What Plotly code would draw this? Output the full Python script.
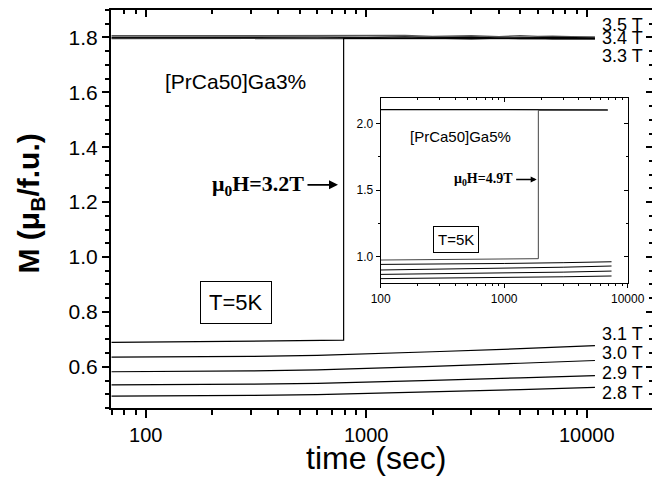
import plotly.graph_objects as go

# ---------------- data (main panel: [PrCa50]Ga3%) ----------------
t_low = [70, 150, 300, 600, 1000, 2000, 5000, 10900]
m_31 = [0.635, 0.636, 0.638, 0.642, 0.647, 0.655, 0.666, 0.677]
m_30 = [0.582, 0.583, 0.585, 0.589, 0.594, 0.602, 0.613, 0.623]
m_29 = [0.534, 0.535, 0.537, 0.540, 0.544, 0.551, 0.560, 0.568]
m_28 = [0.493, 0.494, 0.496, 0.499, 0.503, 0.509, 0.517, 0.525]

t_32 = [70, 150, 450, 790, 790, 1000, 2000, 5000, 10900]
m_32 = [0.689, 0.691, 0.695, 0.697, 1.797, 1.797, 1.798, 1.797, 1.796]

t_high = [70, 150, 300, 600, 1000, 1500, 2000, 3000, 4000, 5000, 6000, 7000, 8500, 10900]
m_35 = [1.806, 1.806, 1.805, 1.806, 1.805, 1.807, 1.804, 1.806, 1.803, 1.806, 1.804, 1.805, 1.803, 1.802]
m_34 = [1.800, 1.801, 1.800, 1.801, 1.800, 1.802, 1.799, 1.801, 1.798, 1.800, 1.799, 1.800, 1.798, 1.798]
m_33 = [1.796, 1.796, 1.797, 1.796, 1.797, 1.795, 1.797, 1.794, 1.797, 1.795, 1.796, 1.794, 1.795, 1.794]

field_labels = ["3.5 T", "3.4 T", "3.3 T", "3.1 T", "3.0 T", "2.9 T", "2.8 T"]
label_y = [1.844, 1.798, 1.731, 0.720, 0.651, 0.578, 0.505]

# ---------------- data (inset: [PrCa50]Ga5%) ----------------
ti_high = [100, 300, 1000, 3000, 6900]
mi_high = [2.106, 2.105, 2.106, 2.105, 2.104]
ti_49 = [100, 500, 1890, 1890, 3000, 6900]
mi_49 = [0.975, 0.978, 0.985, 2.100, 2.101, 2.100]
ti_low = [100, 300, 1000, 3000, 7400]
mi_48 = [0.942, 0.944, 0.949, 0.955, 0.962]
mi_47 = [0.900, 0.905, 0.912, 0.921, 0.930]
mi_46 = [0.867, 0.871, 0.877, 0.884, 0.892]
mi_45 = [0.835, 0.838, 0.843, 0.849, 0.855]

x_major = [100, 1000, 10000]
x_major_text = ["100", "1000", "10000"]
x_minor_main = [70, 80, 90, 200, 300, 400, 500, 600, 700, 800, 900,
                2000, 3000, 4000, 5000, 6000, 7000, 8000, 9000, 20000]
x_minor_inset = [200, 300, 400, 500, 600, 700, 800, 900,
                 2000, 3000, 4000, 5000, 6000, 7000, 8000, 9000]

SANS = "Liberation Sans, Arial"
SERIF = "Liberation Serif, Times New Roman"

fig = go.Figure()

def line(x, y, xa="x", ya="y", color="black", w=1.2):
    fig.add_trace(go.Scatter(x=x, y=y, mode="lines", xaxis=xa, yaxis=ya,
                             line=dict(color=color, width=w),
                             showlegend=False, hoverinfo="skip"))

# main traces
for m, c in [(m_35, "#555555"), (m_34, "black"), (m_33, "#333333")]:
    line(t_high, m, color=c, w=1.4)
line(t_32, m_32)
for m in [m_31, m_30, m_29, m_28]:
    line(t_low, m)

# inset traces
line(ti_high, mi_high, "x2", "y2", w=1.2)
line(ti_49, mi_49, "x2", "y2", color="#444444", w=1)
for m in [mi_48, mi_47, mi_46, mi_45]:
    line(ti_low, m, "x2", "y2", w=1)

# dummy traces for mirrored (inside) tick axes
for xa, ya in [("x3", "y"), ("x", "y3"), ("x4", "y2"), ("x2", "y4")]:
    fig.add_trace(go.Scatter(x=[None], y=[None], xaxis=xa, yaxis=ya,
                             showlegend=False, hoverinfo="skip"))

main_xr = [1.8426, 4.3007]
main_yr = [0.45, 1.90]
ins_xr = [2.0, 4.0]
ins_yr = [0.80, 2.19]
ins_dx = [0.4976, 0.9533]
ins_dy = [0.3133, 0.778]

common = dict(showgrid=False, zeroline=False, automargin=False)

# page body has an 8px default margin, so the figure is made 8px smaller
fig.update_layout(
    template="none",
    width=652, height=472,
    margin=dict(l=103, r=7, t=2, b=72, pad=0),
    plot_bgcolor="white", paper_bgcolor="white",
    font=dict(family=SANS, color="black"),
    xaxis=dict(type="log", range=main_xr, showline=True, linewidth=2, linecolor="black",
               mirror=True, ticks="outside", ticklen=8, tickwidth=1.5, tickcolor="black",
               tickmode="array", tickvals=x_major, ticktext=x_major_text,
               tickfont=dict(size=20, family=SANS),
               minor=dict(tickmode="array", tickvals=x_minor_main, ticks="outside",
                          ticklen=5, tickwidth=1.5, tickcolor="black"),
               **common),
    yaxis=dict(range=main_yr, showline=True, linewidth=2, linecolor="black",
               mirror=True, ticks="outside", ticklen=7, tickwidth=1.5, tickcolor="black",
               tick0=0, dtick=0.2, tickformat=".1f",
               tickfont=dict(size=21, family=SANS),
               minor=dict(tick0=0, dtick=0.05, ticks="outside", ticklen=4, tickwidth=1.5,
                          tickcolor="black"),
               **common),
    xaxis3=dict(type="log", range=main_xr, overlaying="x", side="top", anchor="y",
                showline=False, ticks="inside", ticklen=7, tickwidth=1.5, tickcolor="black",
                tickmode="array", tickvals=x_major, showticklabels=False,
                minor=dict(tickmode="array", tickvals=x_minor_main, ticks="inside",
                           ticklen=4, tickwidth=1.5, tickcolor="black"),
                **common),
    yaxis3=dict(range=main_yr, overlaying="y", side="right", anchor="x",
                showline=False, ticks="inside", ticklen=7, tickwidth=1.5, tickcolor="black",
                tick0=0, dtick=0.2, showticklabels=False,
                minor=dict(tick0=0, dtick=0.05, ticks="inside", ticklen=4, tickwidth=1.5,
                           tickcolor="black"),
                **common),
    xaxis2=dict(type="log", domain=ins_dx, anchor="y2", range=ins_xr,
                showline=True, linewidth=1, linecolor="black", mirror=True,
                ticks="outside", ticklen=4, tickwidth=1, tickcolor="black",
                tickmode="array", tickvals=x_major, ticktext=x_major_text,
                tickfont=dict(size=12, family=SANS),
                minor=dict(tickmode="array", tickvals=x_minor_inset, ticks="outside",
                           ticklen=2, tickwidth=1, tickcolor="black"),
                **common),
    yaxis2=dict(domain=ins_dy, anchor="x2", range=ins_yr,
                showline=True, linewidth=1, linecolor="black", mirror=True,
                ticks="outside", ticklen=4, tickwidth=1, tickcolor="black",
                tick0=0, dtick=0.5, tickformat=".1f",
                tickfont=dict(size=12, family=SANS),
                minor=dict(tick0=0, dtick=0.25, ticks="outside", ticklen=2, tickwidth=1,
                           tickcolor="black"),
                **common),
    xaxis4=dict(type="log", range=ins_xr, overlaying="x2", side="top", anchor="y2",
                showline=False, ticks="inside", ticklen=4, tickwidth=1, tickcolor="black",
                tickmode="array", tickvals=x_major, showticklabels=False,
                minor=dict(tickmode="array", tickvals=x_minor_inset, ticks="inside",
                           ticklen=2, tickwidth=1, tickcolor="black"),
                **common),
    yaxis4=dict(range=ins_yr, overlaying="y2", side="right", anchor="x2",
                showline=False, ticks="inside", ticklen=4, tickwidth=1, tickcolor="black",
                tick0=0, dtick=0.5, showticklabels=False,
                minor=dict(tick0=0, dtick=0.25, ticks="inside", ticklen=2, tickwidth=1,
                           tickcolor="black"),
                **common),
)

ann = []
# axis titles
ann.append(dict(text="<b>M (μ<sub>B</sub>/f.u.)</b>", xref="paper", yref="paper",
                x=-0.1494, y=0.514, textangle=-90, showarrow=False,
                font=dict(size=30, family=SANS), xanchor="center", yanchor="middle"))
ann.append(dict(text="time (sec)", xref="paper", yref="paper",
                x=0.489, y=-0.1256, showarrow=False,
                font=dict(size=32, family=SANS), xanchor="center", yanchor="middle"))
# field labels
for txt, yv in zip(field_labels, label_y):
    ann.append(dict(text=txt, xref="x", yref="y", x=4.264, y=yv, showarrow=False,
                    xanchor="right", yanchor="middle", font=dict(size=18, family=SANS)))
# main panel texts
ann.append(dict(text="[PrCa50]Ga3%", xref="x", yref="y", x=2.405, y=1.639,
                showarrow=False, font=dict(size=21, family=SANS)))
ann.append(dict(text="<b>μ<sub>0</sub>H=3.2T</b>", xref="x", yref="y", x=2.727, y=1.263,
                showarrow=False, xanchor="right", yanchor="middle",
                font=dict(size=22, family=SERIF)))
ann.append(dict(text="", xref="x", yref="y", x=2.872, y=1.263, ax=-32, ay=0,
                showarrow=True, arrowhead=2, arrowsize=1, arrowwidth=1.8, arrowcolor="black"))
ann.append(dict(text="T=5K", xref="x", yref="y", x=2.409, y=0.833, showarrow=False,
                font=dict(size=22, family=SANS), bordercolor="black", borderwidth=1,
                borderpad=8, bgcolor="white"))
# inset texts
ann.append(dict(text="[PrCa50]Ga5%", xref="x2", yref="y2", x=2.650, y=1.905,
                showarrow=False, font=dict(size=15, family=SANS)))
ann.append(dict(text="<b>μ<sub>0</sub>H=4.9T</b>", xref="x2", yref="y2", x=3.087, y=1.58,
                showarrow=False, xanchor="right", yanchor="middle",
                font=dict(size=14, family=SERIF)))
ann.append(dict(text="", xref="x2", yref="y2", x=3.263, y=1.58, ax=-22, ay=0,
                showarrow=True, arrowhead=2, arrowsize=0.8, arrowwidth=1.5, arrowcolor="black"))
ann.append(dict(text="T=5K", xref="x2", yref="y2", x=2.608, y=1.130, showarrow=False,
                font=dict(size=15, family=SANS), bordercolor="black", borderwidth=1,
                borderpad=4, bgcolor="white"))
fig.update_layout(annotations=ann)

fig.write_html("out.html")
